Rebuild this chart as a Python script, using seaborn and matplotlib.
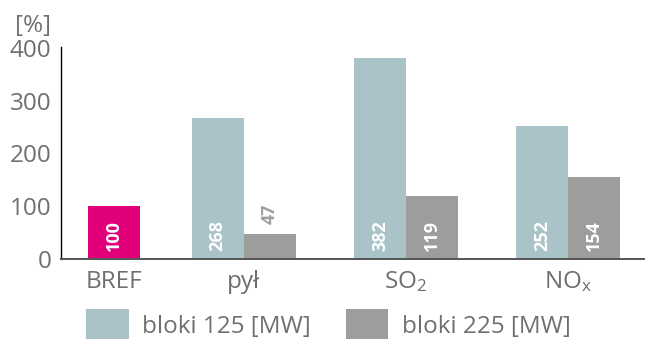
import matplotlib
matplotlib.use("Agg")
import matplotlib.pyplot as plt
import seaborn as sns
import pandas as pd

# Emission indices relative to the BREF reference level
categories = ["pył", "SO$_2$", "NO$_x$"]
series_names = ["bloki 125 [MW]", "bloki 225 [MW]"]
bloki_125 = [268, 382, 252]
bloki_225 = [47, 119, 154]
bref_label = "BREF"
bref_value = 100
y_ticks = [0, 100, 200, 300, 400]

COL_125 = "#a9c3c9"
COL_225 = "#9d9d9c"
COL_BREF = "#e2007a"
TXT = "#6f6f6e"
FS = 17.5

sns.set_theme(style="white")
plt.rcParams["font.family"] = ["Open Sans", "DejaVu Sans"]
plt.rcParams["mathtext.fontset"] = "custom"
plt.rcParams["mathtext.rm"] = "Open Sans"
plt.rcParams["mathtext.it"] = "Open Sans"
plt.rcParams["mathtext.default"] = "regular"

df = pd.DataFrame({
    "category": categories * 2,
    "series": [series_names[0]] * len(categories) + [series_names[1]] * len(categories),
    "value": bloki_125 + bloki_225,
})

fig = plt.figure(figsize=(6.45, 3.39), dpi=100)
ax = fig.add_axes([61 / 645, 1 - 258.5 / 339, 1 - 61 / 645, (258.5 - 47) / 339])

sns.barplot(data=df, x="category", y="value", hue="series", order=categories,
            hue_order=series_names, palette=[COL_125, COL_225], width=0.64,
            saturation=1, errorbar=None, ax=ax, linewidth=0)

# reference bar sits left of the grouped categories
bref_pos = -0.8
ax.bar([bref_pos], [bref_value], width=0.32, color=COL_BREF, linewidth=0)

ax.set_xlim(-1.124, 2.472)
ax.set_ylim(0, 402)
ax.set_xticks([bref_pos, 0, 1, 2])
ax.set_xticklabels([bref_label] + categories)
ax.set_yticks(y_ticks)
ax.set_xlabel("")
ax.set_ylabel("")
ax.tick_params(axis="both", length=0, labelsize=FS, colors=TXT)
ax.tick_params(axis="y", pad=7)
ax.tick_params(axis="x", pad=8)

for side in ["top", "right"]:
    ax.spines[side].set_visible(False)
ax.spines["left"].set_color("black")
ax.spines["left"].set_linewidth(1.0)
ax.spines["bottom"].set_color("#555555")
ax.spines["bottom"].set_linewidth(1.4)

# value labels: white inside tall bars, bar-coloured above short ones
for cont in ax.containers:
    for bar in cont:
        h = bar.get_height()
        cx = bar.get_x() + bar.get_width() / 2
        if h >= 90:
            ax.text(cx, 15, f"{h:.0f}", rotation=90, ha="center", va="bottom",
                    color="white", fontsize=13, fontweight="bold")
        else:
            ax.text(cx, h + 19, f"{h:.0f}", rotation=90, ha="center", va="bottom",
                    color=bar.get_facecolor(), fontsize=13, fontweight="bold")

handles, labels = ax.get_legend_handles_labels()
if ax.get_legend() is not None:
    ax.get_legend().remove()
fig.legend(handles[:2], labels[:2], loc="upper left", bbox_to_anchor=(86 / 645, 1 - 309 / 339),
           ncol=2, frameon=False, fontsize=FS, labelcolor=TXT,
           handlelength=1.75, handleheight=1.7, handletextpad=0.55,
           columnspacing=1.45, borderaxespad=0, borderpad=0)

fig.text(51 / 645, 1 - 26 / 339, "[%]", ha="right", va="center", fontsize=FS, color=TXT)

fig.savefig("out.png", dpi=100)
